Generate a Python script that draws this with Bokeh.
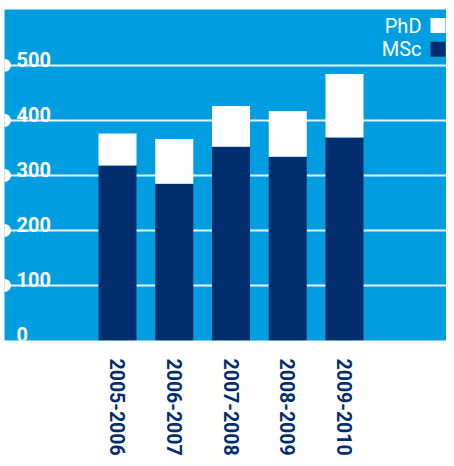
from bokeh.plotting import figure
from bokeh.models import ColumnDataSource, FixedTicker, Range1d
from bokeh.core.properties import value
from bokeh.embed import file_html
from bokeh.resources import INLINE

# ---- data ----
years = ["2005-2006", "2006-2007", "2007-2008", "2008-2009", "2009-2010"]
msc = [318, 285, 352, 334, 369]
phd = [58, 81, 74, 83, 115]
y_ticks = [0, 100, 200, 300, 400, 500]
grid_ticks = [100, 200, 300, 400, 500]
legend_labels = ["PhD", "MSc"]

# ---- style ----
BLUE = "#009ee0"
NAVY = "#002d6e"
WHITE = "#ffffff"
FONT = "Roboto"
NARROW = "Liberation Sans Narrow, Roboto"

W, H = 446, 458
LEFT = 4
TOP = 9
FRAME_H = 341
FRAME_W = W - LEFT
BOTTOM = H - TOP - FRAME_H
PX_X = 56.75          # pixels per category step
PX_Y = 0.567          # pixels per unit
FIRST_CENTER = 117.0  # px (figure) of first bar centre

XMIN = -(FIRST_CENTER - LEFT) / PX_X
XMAX = XMIN + FRAME_W / PX_X
YMAX = FRAME_H / PX_Y


def dx(px):
    return XMIN + (px - LEFT) / PX_X


def dy(py):
    return YMAX - (py - TOP) / PX_Y


xs = list(range(len(years)))
src = ColumnDataSource(dict(x=xs, msc=msc, phd=phd))

p = figure(width=W, height=H, output_backend="svg", toolbar_location=None,
           x_range=Range1d(XMIN, XMAX), y_range=Range1d(0, YMAX),
           min_border_left=LEFT, min_border_right=0,
           min_border_top=TOP, min_border_bottom=BOTTOM)
p.background_fill_color = BLUE
p.border_fill_color = WHITE
p.outline_line_color = None

p.xgrid.visible = False
p.ygrid.ticker = FixedTicker(ticks=grid_ticks)
p.ygrid.grid_line_color = WHITE
p.ygrid.grid_line_width = 2
p.ygrid.grid_line_alpha = 0.9

p.yaxis.visible = False

xa = p.xaxis[0]
xa.ticker = FixedTicker(ticks=xs)
xa.major_label_overrides = {i: y for i, y in zip(xs, years)}
xa.major_label_orientation = "vertical"
xa.major_label_text_font = FONT
xa.major_label_text_font_size = "19.5px"
xa.major_label_text_font_style = "bold"
xa.major_label_text_color = NAVY
xa.major_label_standoff = 12
xa.axis_line_color = None
xa.major_tick_line_color = None
xa.minor_tick_line_color = None

p.vbar_stack(["msc", "phd"], x="x", width=0.67, color=[NAVY, WHITE],
             line_color=None, source=src)

# y tick labels inside the panel, above the gridlines
p.text(x=[dx(16)] * len(y_ticks), y=y_ticks, text=[str(t) for t in y_ticks],
       text_font=value(NARROW), text_font_size="20px", text_font_style="bold",
       text_color=WHITE, text_baseline="alphabetic", text_align="left",
       y_offset=-6)

# dots on the left edge
p.scatter(x=[XMIN] * len(grid_ticks), y=grid_ticks, size=13,
          marker="circle", color=WHITE, line_color=None)

# legend (text left, swatch right)
leg_y = [dy(25.5), dy(50)]
p.text(x=[dx(421)] * 2, y=leg_y, text=legend_labels,
       text_font=value(NARROW), text_font_size="20px",
       text_color=WHITE, text_baseline="middle", text_align="right")
p.rect(x=[dx(437.5)] * 2, y=leg_y, width=15, height=15,
       width_units="screen", height_units="screen",
       fill_color=[WHITE, NAVY], line_color=None)

open("out.html", "w").write(file_html(p, INLINE))
